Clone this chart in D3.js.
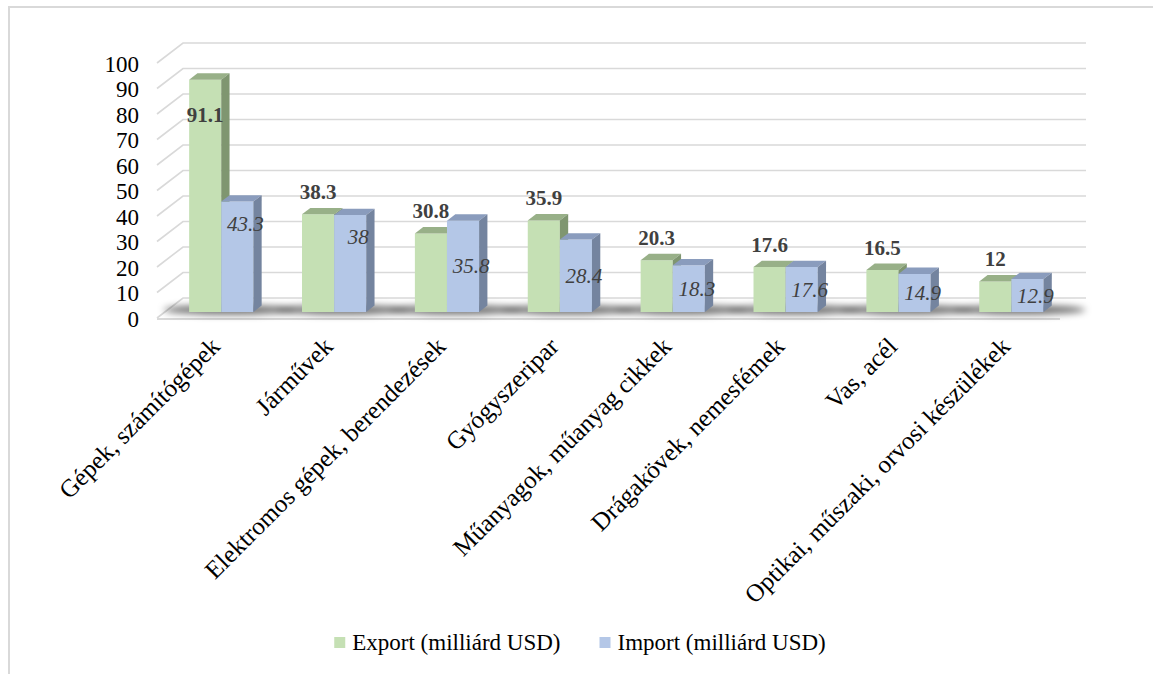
<!DOCTYPE html>
<html>
<head>
<meta charset="utf-8">
<script src="https://cdn.jsdelivr.net/npm/d3@7"></script>
<style>
  html, body { margin: 0; padding: 0; background: #fff; }
  svg { display: block; font-family: "Liberation Serif", "Times New Roman", serif; }
</style>
</head>
<body>
<svg id="chart" width="1153" height="674"></svg>
<script>
// Product groups and trade values (billion USD)
const categories = [
  "Gépek, számítógépek",
  "Járművek",
  "Elektromos gépek, berendezések",
  "Gyógyszeripar",
  "Műanyagok, műanyag cikkek",
  "Drágakövek, nemesfémek",
  "Vas, acél",
  "Optikai, műszaki, orvosi készülékek"
];
const exportValues = [91.1, 38.3, 30.8, 35.9, 20.3, 17.6, 16.5, 12];
const importValues = [43.3, 38, 35.8, 28.4, 18.3, 17.6, 14.9, 12.9];
const yTicks = [0, 10, 20, 30, 40, 50, 60, 70, 80, 90, 100];
const seriesNames = ["Export (milliárd USD)", "Import (milliárd USD)"];

// Layout of the 3D box: front plane, depth vector
const FRONT_X0 = 157, FRONT_X1 = 1060, FLOOR_Y = 318;
const DEPTH_X = 26, DEPTH_Y = 20;
const BAR_Z0 = 0.3, BAR_Z1 = 0.62;
const SERIF = "'Liberation Serif', 'Times New Roman', serif";

const colors = {
  export: { front: "#c5e0b4", top: "#98b088", side: "#7f9670" },
  import: { front: "#b4c7e7", top: "#8a9cbd", side: "#74849f" },
  grid: "#d9d9d9"
};

const svg = d3.select("#chart");

const x = d3.scaleBand().domain(categories).range([FRONT_X0, FRONT_X1]);
const xs = d3.scaleBand().domain(["export", "import"]).range([0, x.bandwidth()]).paddingOuter(0.758);
const h = d3.scaleLinear().domain([0, 100]).range([0, 255]);

// project a point (x on front plane, value, depth z in 0..1)
const P = (px, v, z) => [px + z * DEPTH_X, FLOOR_Y - z * DEPTH_Y - h(v)];
const poly = pts => pts.map(p => p.join(",")).join(" ");

// frame
svg.append("path")
  .attr("d", "M9,674 L9,7 L1153,7")
  .attr("fill", "none").attr("stroke", "#d9d9d9").attr("stroke-width", 2);

// shadow filter
const defs = svg.append("defs");
defs.append("filter").attr("id", "soft").attr("x", "-50%").attr("y", "-200%").attr("width", "200%").attr("height", "500%")
  .append("feGaussianBlur").attr("stdDeviation", 3.5);

// gridlines: left wall diagonal + back wall horizontal
const grid = svg.append("g");
yTicks.forEach(t => {
  grid.append("polyline")
    .attr("points", poly([P(FRONT_X0, t, 0), P(FRONT_X0, t, 1), P(FRONT_X1, t, 1)]))
    .attr("fill", "none").attr("stroke", colors.grid).attr("stroke-width", 1.6);
});
// floor front edge
grid.append("line")
  .attr("x1", P(FRONT_X0, 0, 0)[0]).attr("y1", P(FRONT_X0, 0, 0)[1] + 1)
  .attr("x2", P(FRONT_X1, 0, 0)[0]).attr("y2", P(FRONT_X1, 0, 0)[1] + 1)
  .attr("stroke", colors.grid).attr("stroke-width", 2);

// floor shadows beneath each pair of bars
const shadows = svg.append("g").attr("filter", "url(#soft)");
categories.forEach(c => {
  const left = x(c) + xs("export");
  const right = x(c) + xs("import") + xs.bandwidth();
  const zMid = (BAR_Z0 + BAR_Z1) / 2;
  const [cx0, cy] = P((left + right) / 2, 0, zMid);
  shadows.append("ellipse")
    .attr("cx", cx0 + 4).attr("cy", cy + 1)
    .attr("rx", (right - left) / 2 + 34).attr("ry", 5)
    .attr("fill", "#000").attr("opacity", 0.55);
});

// bars
const bars = svg.append("g");
function drawBar(px, w, v, col) {
  const g = bars.append("g");
  const xl = px, xr = px + w;
  g.append("polygon").attr("points", poly([P(xl, 0, BAR_Z0), P(xr, 0, BAR_Z0), P(xr, v, BAR_Z0), P(xl, v, BAR_Z0)])).attr("fill", col.front);
  g.append("polygon").attr("points", poly([P(xl, v, BAR_Z0), P(xr, v, BAR_Z0), P(xr, v, BAR_Z1), P(xl, v, BAR_Z1)])).attr("fill", col.top);
  g.append("polygon").attr("points", poly([P(xr, 0, BAR_Z0), P(xr, 0, BAR_Z1), P(xr, v, BAR_Z1), P(xr, v, BAR_Z0)])).attr("fill", col.side);
}
categories.forEach((c, i) => {
  drawBar(x(c) + xs("export"), xs.bandwidth(), exportValues[i], colors.export);
  drawBar(x(c) + xs("import"), xs.bandwidth(), importValues[i], colors.import);
});

// value labels: export bold above the bar (inside when near the top), import italic inside
const labels = svg.append("g").attr("font-size", 21).attr("fill", "#404040").style("font-family", SERIF);
categories.forEach((c, i) => {
  const ev = exportValues[i], iv = importValues[i];
  const ex = x(c) + xs("export") + BAR_Z0 * DEPTH_X + xs.bandwidth() / 2;
  const eTop = P(0, ev, BAR_Z0)[1];
  const ey = ev > 85 ? eTop + 35 : eTop - 22;
  labels.append("text").attr("x", ex).attr("y", ey)
    .attr("text-anchor", "middle").attr("dominant-baseline", "central")
    .attr("font-weight", "bold").text(ev);

  const ix = x(c) + xs("import") + BAR_Z0 * DEPTH_X + xs.bandwidth() / 2 + 8;
  const iTop = P(0, iv, BAR_Z0)[1];
  const iBase = P(0, 0, BAR_Z0)[1];
  const iy = (iBase - iTop) > 94 ? iTop + 22 : (iTop + iBase) / 2;
  labels.append("text").attr("x", ix).attr("y", iy)
    .attr("text-anchor", "middle").attr("dominant-baseline", "central")
    .attr("font-style", "italic").text(iv);
});

// value axis on the front plane
const yAxisScale = d3.scaleLinear().domain([0, 100]).range([FLOOR_Y, FLOOR_Y - 255]);
const yAxis = svg.append("g")
  .attr("transform", "translate(139,1)")
  .call(d3.axisLeft(yAxisScale).tickValues(yTicks).tickSize(0).tickPadding(0));
yAxis.select(".domain").remove();
yAxis.attr("font-family", null);
yAxis.selectAll("text").style("font-family", SERIF).attr("font-size", 23).attr("fill", "#000").attr("dy", "0.32em");

// category axis with slanted labels
const xAxis = svg.append("g")
  .attr("transform", `translate(0,${FLOOR_Y})`)
  .call(d3.axisBottom(x).tickSize(0).tickPadding(0));
xAxis.select(".domain").remove();
xAxis.attr("font-family", null);
xAxis.selectAll("text")
  .style("font-family", SERIF).attr("font-size", 25).attr("fill", "#000")
  .attr("text-anchor", "end")
  .attr("y", 0).attr("dy", 0)
  .attr("transform", "translate(8,30) rotate(-45)");

// legend
const legend = svg.append("g").attr("font-size", 23).style("font-family", SERIF);
const legendColors = [colors.export.front, colors.import.front];
let lx = 0;
const items = seriesNames.map((name, i) => {
  const g = legend.append("g");
  g.append("rect").attr("x", 0).attr("y", -13).attr("width", 11).attr("height", 11).attr("fill", legendColors[i]);
  const t = g.append("text").attr("x", 18).attr("y", 0).attr("fill", "#000").text(name);
  return { g, w: 18 + t.node().getComputedTextLength() };
});
const gap = 39;
const total = d3.sum(items, d => d.w) + gap * (items.length - 1);
lx = 580 - total / 2;
items.forEach(it => { it.g.attr("transform", `translate(${lx},650)`); lx += it.w + gap; });
</script>
</body>
</html>
